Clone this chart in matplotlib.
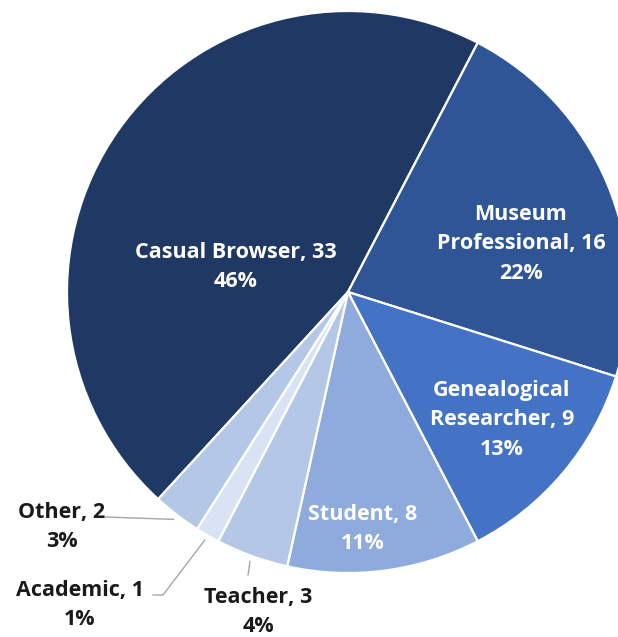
import numpy as np
import matplotlib.pyplot as plt

plt.rcParams['font.family'] = ['Open Sans', 'DejaVu Sans']

categories = ['Casual Browser', 'Museum\nProfessional', 'Genealogical\nResearcher',
              'Student', 'Teacher', 'Academic', 'Other']
counts = [33, 16, 9, 8, 3, 1, 2]
colors = ['#203864', '#2F5597', '#4472C4', '#8FAADC', '#B4C7E7', '#DAE3F3', '#B4C7E7']

W, H = 618, 637
CX, CY, R = 348, 292, 281


def px(x, y):
    # pixel position -> data units (pie radius = 1)
    return (x - CX) / R, (CY - y) / R


fig = plt.figure(figsize=(W / 100, H / 100), dpi=100)
ax = fig.add_axes([0, 0, 1, 1])

wedges, _ = ax.pie(counts, colors=colors, startangle=227.5, counterclock=False,
                   wedgeprops=dict(edgecolor='white', linewidth=1.6))

total = sum(counts)
labels = ['%s, %d\n%d%%' % (c, n, int(100 * n / total + 0.5))
          for c, n in zip(categories, counts)]

font = dict(fontsize=15.5, fontweight='bold', linespacing=1.55)

# inside labels (white)
inside_pos = [px(236, 267), px(521, 244), px(502, 420), px(363, 529)]
for i, pos in enumerate(inside_pos):
    ax.text(pos[0], pos[1], labels[i], ha='center', va='center', color='white', **font)

# outside labels with leader lines
outside = {
    4: dict(text=px(258, 612), line=[px(248, 575)]),
    5: dict(text=px(80, 605), line=[px(153, 595), px(163, 595)]),
    6: dict(text=px(62, 527), line=[px(105, 517)]),
}
for i, spec in outside.items():
    w = wedges[i]
    mid = np.deg2rad((w.theta1 + w.theta2) / 2)
    edge = (1.02 * np.cos(mid), 1.02 * np.sin(mid))
    pts = [edge] + spec['line'][::-1]
    ax.plot([p[0] for p in pts], [p[1] for p in pts], color='#A6A6A6', lw=1)
    tx, ty = spec['text']
    ax.text(tx, ty, labels[i], ha='center', va='center', color='#1A1A1A', **font)

ax.set_xlim(-CX / R, (W - CX) / R)
ax.set_ylim(-(H - CY) / R, CY / R)
ax.axis('off')

fig.savefig('out.png', dpi=100, facecolor='white')
